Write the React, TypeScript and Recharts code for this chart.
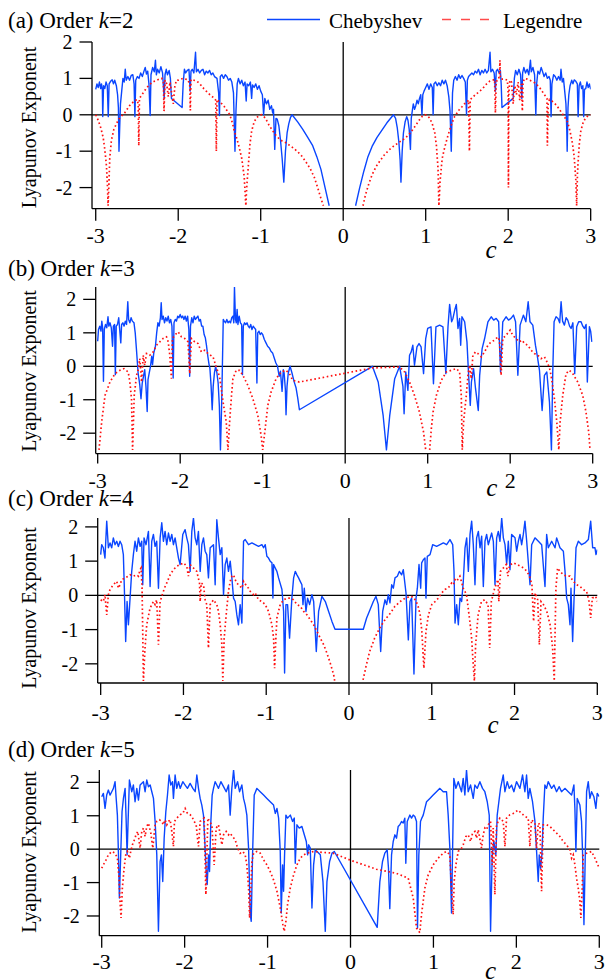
import React from "react";
import { LineChart, Line, XAxis, YAxis, ReferenceLine } from "recharts";

type Pt = [number, number | null];

const xTicks = [-3, -2, -1, 0, 1, 2, 3];
const yTicks = [-2, -1, 0, 1, 2];
const panelLabels = ["(a)", "(b)", "(c)", "(d)"];
const panelOrders = [2, 3, 4, 5];
const seriesNames = ["Chebyshev", "Legendre"];
const yTitle = "Lyapunov Exponent";
const xTitle = "c";

// ---------- (a) k = 2 ----------
const chebA: Pt[] = [
  [-3.0,0.7],[-2.985,0.85],[-2.97,0.75],[-2.955,0.9],[-2.94,0.72],[-2.93,0.85],[-2.92,0.7],[-2.915,-0.05],[-2.905,0.8],[-2.89,0.72],[-2.875,0.9],[-2.86,0.8],[-2.848,-0.05],[-2.838,0.85],[-2.82,0.92],[-2.8,0.96],[-2.785,0.85],[-2.77,0.95],[-2.75,0.8],[-2.735,0.55],[-2.725,0.2],[-2.718,-1.0],[-2.71,-0.4],[-2.7,0.3],[-2.685,0.65],[-2.67,1.0],[-2.655,0.9],[-2.642,1.25],[-2.63,0.95],[-2.61,1.05],[-2.59,0.95],[-2.57,1.08],[-2.55,1.1],[-2.535,0.85],[-2.525,-0.05],[-2.515,0.95],[-2.495,1.05],[-2.475,1.0],[-2.455,1.15],[-2.435,1.05],[-2.415,1.2],[-2.4,1.3],[-2.385,1.12],[-2.37,1.2],[-2.355,0.85],[-2.34,-0.02],[-2.33,1.1],[-2.31,1.3],[-2.29,1.18],[-2.276,1.5],[-2.265,1.1],[-2.25,1.25],[-2.23,1.15],[-2.21,1.32],[-2.19,1.15],[-2.17,0.45],[-2.16,1.1],[-2.145,1.25],[-2.13,1.1],[-2.11,1.22],[-2.095,1.0],[-2.082,0.45],[-1.953,0.2],[-1.94,0.85],[-1.925,1.25],[-1.91,1.15],[-1.89,1.22],[-1.87,1.25],[-1.855,0.65],[-1.845,1.2],[-1.83,1.25],[-1.81,1.15],[-1.79,1.72],[-1.78,1.18],[-1.76,1.25],[-1.74,1.15],[-1.72,1.22],[-1.7,1.25],[-1.68,1.1],[-1.66,1.2],[-1.64,1.15],[-1.62,1.22],[-1.6,1.1],[-1.58,1.15],[-1.56,1.05],[-1.53,1.0],[-1.51,0.6],[-1.5,-0.02],[-1.49,1.05],[-1.47,1.1],[-1.45,1.0],[-1.43,1.1],[-1.41,1.05],[-1.39,0.95],[-1.37,1.0],[-1.35,0.9],[-1.33,0.6],[-1.312,-1.0],[-1.3,0.1],[-1.285,0.85],[-1.27,1.0],[-1.25,0.85],[-1.23,0.95],[-1.21,0.8],[-1.19,0.9],[-1.176,0.38],[-1.165,0.85],[-1.145,0.8],[-1.125,0.9],[-1.11,0.45],[-1.1,0.82],[-1.08,0.75],[-1.06,0.85],[-1.04,0.7],[-1.02,0.8],[-1.0,0.65],[-0.98,0.55],[-0.965,0.0],[-0.95,0.45],[-0.93,0.3],[-0.91,0.4],[-0.89,0.15],[-0.87,0.25],[-0.855,0.05],[-0.845,0.15],[-0.83,-0.95],[-0.815,-0.1],[-0.8,-0.12],[-0.78,-0.3],[-0.76,-0.7],[-0.74,-1.2],[-0.72,-1.85],[-0.7,-1.0],[-0.68,-0.5],[-0.66,-0.25],[-0.64,-0.08],[-0.62,0.0],[-0.55,-0.2],[-0.49,-0.4],[-0.43,-0.62],[-0.37,-0.85],[-0.32,-1.15],[-0.27,-1.5],[-0.22,-2.0],[-0.17,-2.5],[0.0,null],
  [0.15,-2.5],[0.2,-2.0],[0.25,-1.55],[0.3,-1.15],[0.35,-0.87],[0.41,-0.62],[0.47,-0.42],[0.53,-0.22],[0.58,-0.08],[0.61,0.0],[0.635,-0.1],[0.655,-0.35],[0.675,-0.75],[0.69,-1.25],[0.7,-1.85],[0.715,-1.0],[0.73,-0.5],[0.75,-0.2],[0.77,-0.05],[0.785,-0.15],[0.8,-0.4],[0.815,-0.95],[0.825,-0.1],[0.84,0.15],[0.85,0.3],[0.865,0.15],[0.88,0.25],[0.895,0.4],[0.91,0.3],[0.925,0.45],[0.94,0.55],[0.955,0.0],[0.965,0.55],[0.98,0.65],[1.0,0.75],[1.02,0.85],[1.04,0.7],[1.06,0.85],[1.08,0.75],[1.09,0.0],[1.1,0.85],[1.12,0.9],[1.14,0.8],[1.16,0.88],[1.18,0.8],[1.2,0.95],[1.22,0.85],[1.24,0.95],[1.26,0.8],[1.28,0.5],[1.295,0.1],[1.31,-1.0],[1.325,0.6],[1.34,0.95],[1.36,1.05],[1.38,0.95],[1.4,1.1],[1.42,1.0],[1.44,1.08],[1.46,1.0],[1.48,0.9],[1.495,0.0],[1.505,0.95],[1.52,1.05],[1.54,1.1],[1.56,1.15],[1.58,1.1],[1.6,1.2],[1.62,1.15],[1.64,1.25],[1.66,1.1],[1.68,1.22],[1.7,1.15],[1.72,1.25],[1.74,1.15],[1.76,1.22],[1.78,1.72],[1.79,1.18],[1.81,1.25],[1.83,1.15],[1.845,0.65],[1.855,1.2],[1.87,1.25],[1.89,1.15],[1.905,1.22],[1.915,0.85],[1.925,0.2],[2.06,0.45],[2.075,1.0],[2.09,1.22],[2.11,1.1],[2.13,1.25],[2.15,1.1],[2.165,0.45],[2.175,1.15],[2.19,1.3],[2.21,1.15],[2.23,1.25],[2.25,1.1],[2.27,1.5],[2.28,1.18],[2.3,1.3],[2.32,1.1],[2.335,0.0],[2.345,0.85],[2.36,1.2],[2.38,1.12],[2.4,1.3],[2.415,1.2],[2.435,1.05],[2.455,1.15],[2.475,1.0],[2.495,1.05],[2.51,0.95],[2.52,-0.05],[2.53,0.85],[2.55,1.1],[2.57,1.05],[2.59,0.95],[2.61,1.05],[2.63,0.95],[2.64,1.25],[2.655,0.9],[2.67,1.0],[2.685,0.65],[2.7,0.3],[2.71,-0.4],[2.715,-1.0],[2.725,0.2],[2.735,0.55],[2.75,0.8],[2.77,0.95],[2.785,0.85],[2.8,0.96],[2.82,0.92],[2.838,0.85],[2.848,-0.05],[2.86,0.8],[2.875,0.9],[2.89,0.72],[2.905,0.8],[2.915,-0.05],[2.925,0.7],[2.94,0.72],[2.955,0.9],[2.97,0.75],[2.985,0.85],[3.0,0.7],
];
const legA: Pt[] = [
  [-3.0,0.0],[-2.97,-0.15],[-2.94,-0.35],[-2.91,-0.62],[-2.89,-0.95],[-2.87,-1.4],[-2.857,-2.0],[-2.85,-2.5],[-2.84,-1.9],[-2.83,-1.2],[-2.81,-0.7],[-2.78,-0.4],[-2.75,-0.25],[-2.72,-0.12],[-2.69,-0.04],[-2.65,0.05],[-2.62,0.15],[-2.59,0.25],[-2.56,0.32],[-2.53,0.38],[-2.5,0.42],[-2.485,0.3],[-2.478,-0.85],[-2.47,0.45],[-2.44,0.55],[-2.41,0.65],[-2.38,0.75],[-2.35,0.82],[-2.32,0.88],[-2.29,0.92],[-2.26,0.95],[-2.23,0.98],[-2.2,1.0],[-2.18,0.9],[-2.172,0.1],[-2.16,0.95],[-2.14,0.85],[-2.12,0.5],[-2.1,0.9],[-2.08,0.6],[-2.06,0.3],[-2.04,0.8],[-2.02,0.95],[-2.0,0.95],[-1.97,0.98],[-1.94,1.0],[-1.91,0.98],[-1.88,0.96],[-1.86,0.8],[-1.853,0.12],[-1.845,0.97],[-1.81,0.95],[-1.78,0.93],[-1.75,0.88],[-1.72,0.8],[-1.69,0.72],[-1.66,0.65],[-1.63,0.58],[-1.6,0.52],[-1.57,0.47],[-1.545,0.4],[-1.538,-1.0],[-1.53,0.42],[-1.5,0.35],[-1.47,0.3],[-1.44,0.22],[-1.41,0.12],[-1.38,0.02],[-1.36,-0.1],[-1.34,-0.25],[-1.32,-0.45],[-1.29,-0.65],[-1.26,-0.9],[-1.23,-1.2],[-1.2,-1.7],[-1.18,-2.5],[-1.17,-2.0],[-1.15,-1.4],[-1.13,-0.8],[-1.11,-0.45],[-1.08,-0.2],[-1.05,-0.08],[-1.02,-0.02],[-0.99,0.0],[-0.96,-0.05],[-0.93,-0.15],[-0.9,-0.28],[-0.86,-0.42],[-0.82,-0.55],[-0.78,-0.65],[-0.74,-0.72],[-0.7,-0.76],[-0.65,-0.84],[-0.6,-0.92],[-0.55,-1.02],[-0.5,-1.14],[-0.45,-1.3],[-0.4,-1.48],[-0.35,-1.72],[-0.31,-2.0],[-0.27,-2.3],[-0.24,-2.5],[0.0,null],
  [0.24,-2.5],[0.27,-2.2],[0.31,-1.9],[0.35,-1.65],[0.4,-1.42],[0.45,-1.25],[0.5,-1.1],[0.55,-0.98],[0.6,-0.88],[0.65,-0.8],[0.7,-0.72],[0.74,-0.66],[0.78,-0.58],[0.82,-0.48],[0.86,-0.35],[0.9,-0.22],[0.93,-0.12],[0.96,-0.04],[0.99,0.0],[1.02,-0.02],[1.05,-0.1],[1.08,-0.25],[1.11,-0.5],[1.13,-0.85],[1.15,-1.5],[1.16,-2.5],[1.175,-1.8],[1.2,-1.2],[1.23,-0.9],[1.26,-0.65],[1.29,-0.42],[1.32,-0.22],[1.35,-0.05],[1.38,0.05],[1.41,0.15],[1.44,0.22],[1.47,0.3],[1.5,0.35],[1.52,0.4],[1.53,-1.0],[1.54,0.42],[1.57,0.48],[1.6,0.55],[1.63,0.6],[1.66,0.66],[1.69,0.72],[1.72,0.8],[1.75,0.88],[1.78,0.93],[1.81,0.95],[1.835,0.97],[1.845,0.05],[1.855,0.92],[1.88,0.95],[1.895,1.1],[1.9,1.5],[1.905,1.0],[1.93,0.98],[1.96,0.98],[1.99,0.95],[2.0,0.6],[2.003,-2.0],[2.008,0.6],[2.02,0.95],[2.04,0.9],[2.06,0.3],[2.08,0.8],[2.1,0.55],[2.12,0.9],[2.14,0.4],[2.16,0.85],[2.172,0.1],[2.18,0.9],[2.2,1.0],[2.23,0.98],[2.26,0.95],[2.29,0.92],[2.32,0.88],[2.35,0.82],[2.38,0.75],[2.41,0.65],[2.44,0.55],[2.47,0.45],[2.475,-0.85],[2.485,0.3],[2.5,0.42],[2.53,0.38],[2.56,0.32],[2.59,0.25],[2.62,0.15],[2.65,0.05],[2.68,-0.05],[2.72,-0.2],[2.75,-0.45],[2.78,-0.8],[2.8,-1.15],[2.82,-1.8],[2.83,-2.5],[2.84,-1.6],[2.86,-0.85],[2.88,-0.45],[2.91,-0.2],[2.94,-0.08],[2.97,-0.02],[3.0,0.0],
];

// ---------- (b) k = 3 ----------
const chebB: Pt[] = [
  [-3.0,0.75],[-2.99,1.1],[-2.975,1.2],[-2.96,1.05],[-2.95,1.35],[-2.94,1.15],[-2.93,-0.45],[-2.92,1.1],[-2.905,1.25],[-2.89,1.15],[-2.875,1.48],[-2.865,1.2],[-2.85,1.3],[-2.835,1.15],[-2.82,0.6],[-2.81,1.2],[-2.795,1.25],[-2.786,-0.25],[-2.775,1.2],[-2.76,1.25],[-2.745,1.45],[-2.735,1.15],[-2.72,0.7],[-2.71,1.25],[-2.695,1.3],[-2.68,1.2],[-2.665,1.35],[-2.65,1.25],[-2.635,1.93],[-2.625,1.4],[-2.61,1.3],[-2.595,1.45],[-2.58,1.35],[-2.56,1.3],[-2.545,1.0],[-2.53,0.5],[-2.51,-0.2],[-2.49,-0.55],[-2.475,-0.97],[-2.46,-0.5],[-2.445,-0.3],[-2.43,-0.1],[-2.415,-0.6],[-2.4,-1.35],[-2.39,-0.4],[-2.375,-0.2],[-2.36,0.0],[-2.345,0.3],[-2.335,0.05],[-2.32,0.4],[-2.3,0.6],[-2.285,1.0],[-2.27,1.3],[-2.255,1.2],[-2.24,1.45],[-2.23,1.9],[-2.22,1.4],[-2.205,1.5],[-2.19,1.3],[-2.175,1.45],[-2.16,1.35],[-2.145,1.5],[-2.13,1.3],[-2.115,1.4],[-2.1,1.2],[-2.085,-0.35],[-2.075,1.3],[-2.06,1.4],[-2.045,1.35],[-2.03,1.5],[-2.015,1.45],[-2.0,1.55],[-1.985,1.45],[-1.97,1.5],[-1.955,1.4],[-1.94,1.5],[-1.925,1.35],[-1.91,1.5],[-1.895,1.1],[-1.885,-0.3],[-1.875,1.2],[-1.86,1.45],[-1.845,1.3],[-1.83,1.5],[-1.815,1.4],[-1.8,1.45],[-1.785,1.5],[-1.77,1.35],[-1.755,1.4],[-1.74,1.2],[-1.725,1.2],[-1.71,0.95],[-1.695,0.85],[-1.68,0.6],[-1.665,0.3],[-1.65,0.05],[-1.64,-0.05],[-1.625,-0.6],[-1.612,-1.3],[-1.6,-0.6],[-1.585,-0.2],[-1.57,0.0],[-1.555,-0.2],[-1.54,-0.5],[-1.525,-1.2],[-1.512,-2.5],[-1.5,-1.4],[-1.49,-0.2],[-1.478,1.4],[-1.465,1.35],[-1.45,1.3],[-1.435,1.4],[-1.42,1.3],[-1.405,1.35],[-1.39,1.3],[-1.375,1.45],[-1.36,1.5],[-1.35,1.3],[-1.342,2.37],[-1.33,1.4],[-1.32,1.3],[-1.31,1.7],[-1.3,1.25],[-1.285,1.5],[-1.27,1.3],[-1.255,1.25],[-1.245,-0.25],[-1.235,1.2],[-1.22,1.3],[-1.205,1.25],[-1.19,1.3],[-1.175,1.2],[-1.16,1.15],[-1.145,1.25],[-1.13,1.1],[-1.115,1.2],[-1.1,1.15],[-1.085,1.1],[-1.07,-0.5],[-1.06,1.0],[-1.045,1.05],[-1.03,0.95],[-1.015,1.0],[-1.0,0.95],[-0.98,0.8],[-0.96,0.7],[-0.94,0.6],[-0.92,0.55],[-0.9,0.45],[-0.88,0.4],[-0.86,0.25],[-0.84,0.1],[-0.82,0.0],[-0.8,-0.3],[-0.785,-0.15],[-0.765,-0.75],[-0.75,-0.1],[-0.74,-0.2],[-0.725,-0.7],[-0.717,-1.45],[-0.705,-0.6],[-0.69,-0.2],[-0.668,0.0],[-0.645,-0.2],[-0.62,-0.45],[-0.595,-0.65],[-0.575,-0.95],[-0.555,-1.3],
  [0.33,0.0],[0.4,-0.47],[0.46,-1.47],[0.5,-2.5],[0.54,-1.47],[0.6,-0.37],[0.66,0.0],[0.7,-0.6],[0.714,-1.42],[0.734,-0.17],[0.76,-0.72],[0.78,0.33],[0.8,0.43],[0.82,0.63],[0.84,0.03],[0.87,0.58],[0.895,0.68],[0.92,0.58],[0.95,-0.22],[0.976,0.83],[1.0,1.13],[1.04,1.18],[1.07,-0.52],[1.1,1.18],[1.145,1.23],[1.185,1.18],[1.22,-0.22],[1.246,1.18],[1.266,1.85],[1.29,1.33],[1.306,1.43],[1.33,1.7],[1.347,1.85],[1.367,1.13],[1.387,1.43],[1.4,0.63],[1.415,1.48],[1.448,1.33],[1.476,0.73],[1.49,0.03],[1.516,-1.17],[1.53,-0.47],[1.556,-0.07],[1.58,-0.67],[1.613,-1.32],[1.63,-0.27],[1.66,0.53],[1.69,0.83],[1.73,1.33],[1.77,1.48],[1.8,1.38],[1.83,1.43],[1.86,1.33],[1.883,-0.17],[1.91,1.33],[1.95,1.48],[1.98,1.38],[2.01,1.43],[2.04,1.53],[2.065,1.33],[2.093,-0.27],[2.12,1.23],[2.16,1.53],[2.19,1.33],[2.218,1.93],[2.24,1.33],[2.274,1.23],[2.306,0.63],[2.327,0.33],[2.355,-0.12],[2.387,-1.32],[2.415,-0.27],[2.444,-0.17],[2.476,-1.07],[2.5,-2.5],[2.516,-0.17],[2.532,1.33],[2.556,1.48],[2.58,1.43],[2.6,1.3],[2.617,1.93],[2.635,1.35],[2.657,1.23],[2.678,1.45],[2.698,1.38],[2.72,1.2],[2.738,1.13],[2.76,1.3],[2.782,-0.22],[2.806,1.18],[2.83,1.33],[2.859,1.33],[2.88,1.2],[2.9,1.13],[2.92,1.25],[2.935,-0.47],[2.96,1.18],[2.975,1.05],[2.99,0.73],
];
const legB: Pt[] = [
  [-2.984,-2.5],[-2.952,-1.67],[-2.911,-0.87],[-2.851,-0.47],[-2.79,-0.22],[-2.73,-0.12],[-2.682,-0.07],[-2.63,-0.17],[-2.61,-0.47],[-2.59,-0.97],[-2.577,-2.5],[-2.557,-0.87],[-2.529,-0.27],[-2.51,-0.12],[-2.49,0.23],[-2.468,-0.47],[-2.448,0.33],[-2.43,0.03],[-2.408,0.38],[-2.368,0.33],[-2.327,0.43],[-2.287,0.63],[-2.247,0.73],[-2.207,0.83],[-2.166,0.88],[-2.145,0.73],[-2.126,0.33],[-2.106,-0.37],[-2.094,0.83],[-2.066,0.93],[-2.025,1.03],[-1.985,0.88],[-1.945,0.83],[-1.905,0.73],[-1.884,-0.22],[-1.864,0.83],[-1.824,0.73],[-1.784,0.68],[-1.743,0.43],[-1.703,0.48],[-1.663,0.38],[-1.602,0.28],[-1.57,0.03],[-1.542,-0.17],[-1.522,-0.32],[-1.502,-0.67],[-1.474,-1.17],[-1.441,-1.67],[-1.421,-2.5],[-1.401,-1.67],[-1.381,-0.97],[-1.361,-0.37],[-1.321,-0.12],[-1.28,-0.12],[-1.24,-0.27],[-1.18,-0.57],[-1.119,-0.97],[-1.059,-1.47],[-1.019,-2.07],[-1.0,-2.5],[-0.97,-1.87],[-0.938,-1.17],[-0.898,-0.77],[-0.837,-0.37],[-0.777,-0.17],[-0.717,-0.12],[-0.676,-0.22],[-0.636,-0.42],[-0.555,-0.47],[0.33,-0.05],
  [0.66,-0.02],[0.72,-0.17],[0.78,-0.47],[0.84,-0.87],[0.9,-1.37],[0.95,-1.97],[0.976,-2.5],[1.0,null],[1.024,-2.5],[1.044,-1.87],[1.065,-1.37],[1.105,-0.87],[1.165,-0.42],[1.226,-0.17],[1.286,-0.12],[1.347,-0.07],[1.387,-0.17],[1.407,-0.87],[1.419,-2.5],[1.435,-1.67],[1.468,-0.87],[1.488,-0.27],[1.508,0.03],[1.528,-0.37],[1.548,0.33],[1.58,0.43],[1.609,0.38],[1.65,0.28],[1.69,0.43],[1.73,0.63],[1.77,0.73],[1.81,0.78],[1.85,0.88],[1.87,0.78],[1.89,-0.27],[1.91,0.83],[1.95,0.93],[2.0,1.08],[2.03,0.93],[2.07,0.83],[2.11,0.73],[2.145,0.78],[2.173,0.68],[2.214,0.63],[2.254,0.48],[2.294,0.38],[2.335,0.33],[2.375,0.23],[2.415,0.28],[2.456,0.08],[2.484,-0.12],[2.508,-0.47],[2.536,-0.97],[2.565,-1.67],[2.589,-2.5],[2.605,-1.67],[2.637,-0.87],[2.677,-0.22],[2.718,-0.12],[2.758,-0.22],[2.819,-0.47],[2.879,-0.87],[2.919,-1.37],[2.952,-1.97],[2.968,-2.5],
];

// ---------- (c) k = 4 ----------
const chebC: Pt[] = [
  [-3.0,1.19],[-2.988,1.48],[-2.968,1.39],[-2.948,1.09],[-2.927,2.17],[-2.907,1.39],[-2.887,1.53],[-2.867,1.39],[-2.847,1.68],[-2.827,1.48],[-2.806,1.58],[-2.786,1.43],[-2.766,1.58],[-2.746,1.48],[-2.726,1.19],[-2.714,0.21],[-2.698,-1.35],[-2.681,-0.18],[-2.665,-0.86],[-2.645,-0.08],[-2.625,0.7],[-2.605,1.19],[-2.585,1.58],[-2.565,1.29],[-2.544,1.68],[-2.524,1.43],[-2.504,1.58],[-2.492,0.31],[-2.476,1.68],[-2.452,1.48],[-2.423,1.87],[-2.403,0.26],[-2.383,1.58],[-2.363,1.78],[-2.343,1.43],[-2.323,1.58],[-2.302,0.21],[-2.282,1.68],[-2.262,2.12],[-2.242,1.58],[-2.222,1.87],[-2.202,1.48],[-2.181,1.82],[-2.161,1.58],[-2.141,1.78],[-2.121,1.48],[-2.101,1.68],[-2.081,1.39],[-2.06,1.09],[-2.04,0.9],[-2.008,1.78],[-1.98,1.92],[-1.96,1.68],[-1.94,1.48],[-1.919,0.7],[-1.899,1.87],[-1.879,2.26],[-1.859,1.68],[-1.839,1.48],[-1.819,1.87],[-1.798,0.7],[-1.778,1.48],[-1.758,1.68],[-1.738,1.29],[-1.718,1.19],[-1.698,0.51],[-1.677,1.39],[-1.637,1.48],[-1.617,0.31],[-1.597,2.21],[-1.577,1.68],[-1.556,1.19],[-1.536,1.39],[-1.516,0.02],[-1.496,0.9],[-1.476,1.09],[-1.456,0.7],[-1.435,1.0],[-1.415,0.51],[-1.395,-0.08],[-1.375,-0.18],[-1.355,-0.57],[-1.335,-0.86],[-1.315,-0.27],[-1.294,-0.81],[-1.274,1.58],[-1.254,1.63],[-1.214,1.48],[-1.173,1.53],[-1.133,1.48],[-1.093,1.43],[-1.052,1.48],[-1.032,1.39],[-1.012,1.48],[-0.992,1.14],[-0.972,1.09],[-0.952,1.0],[-0.931,0.95],[-0.919,-0.08],[-0.911,0.9],[-0.891,0.8],[-0.871,0.7],[-0.851,0.51],[-0.81,0.17],[-0.79,-0.47],[-0.778,-2.27],[-0.762,-0.27],[-0.742,-0.27],[-0.718,-1.25],[-0.69,-0.08],[-0.669,0.51],[-0.649,0.7],[-0.629,0.6],[-0.609,0.51],[-0.589,0.41],[-0.569,0.31],[-0.556,-0.27],[-0.54,0.21],[-0.52,-0.47],[-0.5,-0.08],[-0.476,-0.27],[-0.448,0.02],[-0.427,-0.18],[-0.395,-1.64],[-0.367,-0.47],[-0.327,-0.03],[-0.286,-0.18],[-0.246,-0.47],[-0.206,-0.76],[-0.169,-0.99],
  [0.173,-0.99],[0.213,-0.66],[0.254,-0.42],[0.294,-0.18],[0.326,-0.03],[0.354,-0.27],[0.383,-1.64],[0.407,-0.47],[0.435,-0.13],[0.455,-0.27],[0.475,0.02],[0.495,-0.22],[0.516,0.31],[0.536,0.21],[0.556,0.51],[0.584,0.56],[0.608,0.7],[0.636,0.6],[0.656,0.75],[0.689,0.07],[0.717,-1.3],[0.737,-0.18],[0.757,-0.08],[0.785,-2.3],[0.81,-0.08],[0.826,0.21],[0.846,0.9],[0.866,0.21],[0.878,0.95],[0.898,1.04],[0.918,1.09],[0.93,-0.08],[0.946,1.14],[0.979,1.19],[1.011,1.48],[1.059,1.43],[1.1,1.48],[1.14,1.53],[1.18,1.48],[1.22,1.63],[1.253,1.48],[1.269,0.7],[1.281,-0.81],[1.301,-0.27],[1.321,-0.86],[1.341,-0.08],[1.361,-0.18],[1.381,0.41],[1.402,1.39],[1.422,1.68],[1.442,0.7],[1.462,1.78],[1.482,2.17],[1.502,1.48],[1.522,0.31],[1.542,1.68],[1.563,1.87],[1.583,1.39],[1.603,1.73],[1.623,0.26],[1.643,1.58],[1.663,1.78],[1.683,1.48],[1.724,1.82],[1.744,1.58],[1.764,0.31],[1.784,1.68],[1.804,1.87],[1.824,1.58],[1.845,2.26],[1.865,1.68],[1.885,1.48],[1.905,0.9],[1.925,1.58],[1.945,0.75],[1.965,1.78],[2.006,1.68],[2.026,1.29],[2.046,1.58],[2.066,1.78],[2.086,1.48],[2.106,1.78],[2.126,2.17],[2.147,1.58],[2.187,0.31],[2.207,1.48],[2.247,1.68],[2.288,1.58],[2.328,1.48],[2.368,0.26],[2.388,1.78],[2.408,1.39],[2.449,1.58],[2.489,1.39],[2.509,1.68],[2.549,1.39],[2.59,1.29],[2.61,0.7],[2.63,-0.08],[2.65,-0.27],[2.67,-0.86],[2.682,0.21],[2.702,-1.35],[2.718,-0.18],[2.743,1.39],[2.771,1.58],[2.811,1.48],[2.851,1.53],[2.892,1.63],[2.92,2.17],[2.944,1.39],[2.972,1.39],[2.984,1.19],[3.0,1.34],
];
const legC: Pt[] = [
  [-3.0,-0.13],[-2.968,-0.18],[-2.948,0.02],[-2.927,-0.57],[-2.907,0.02],[-2.887,0.17],[-2.847,0.31],[-2.806,0.41],[-2.786,0.21],[-2.766,0.31],[-2.746,0.46],[-2.706,0.51],[-2.665,0.56],[-2.645,0.6],[-2.605,0.56],[-2.565,0.6],[-2.544,0.56],[-2.524,0.75],[-2.512,0.8],[-2.5,0.21],[-2.492,-1.05],[-2.484,-2.5],[-2.464,-1.54],[-2.444,-0.86],[-2.403,-0.37],[-2.363,-0.18],[-2.343,-0.27],[-2.323,-0.13],[-2.302,-1.44],[-2.282,-0.18],[-2.242,0.12],[-2.214,0.31],[-2.202,0.36],[-2.161,0.6],[-2.121,0.75],[-2.081,0.85],[-2.04,0.9],[-2.0,0.95],[-1.96,0.85],[-1.94,0.56],[-1.919,0.9],[-1.879,0.8],[-1.839,0.7],[-1.806,0.36],[-1.798,-0.18],[-1.786,0.36],[-1.758,0.31],[-1.738,-0.13],[-1.718,-0.27],[-1.698,-1.54],[-1.677,-0.27],[-1.637,-0.13],[-1.597,-0.27],[-1.577,-0.47],[-1.556,-0.86],[-1.536,-1.44],[-1.524,-2.5],[-1.508,-1.25],[-1.484,-0.57],[-1.456,0.12],[-1.435,0.41],[-1.415,0.56],[-1.395,0.6],[-1.375,0.46],[-1.355,0.36],[-1.315,0.26],[-1.294,0.21],[-1.274,0.41],[-1.234,0.26],[-1.214,0.21],[-1.194,0.12],[-1.153,0.02],[-1.133,0.07],[-1.093,-0.13],[-1.052,-0.18],[-1.012,-0.27],[-0.972,-0.47],[-0.931,-0.86],[-0.911,-1.25],[-0.899,-2.13],[-0.887,-1.44],[-0.871,-0.66],[-0.831,-0.27],[-0.79,-0.13],[-0.75,-0.08],[-0.71,-0.08],[-0.669,-0.13],[-0.629,-0.27],[-0.589,-0.32],[-0.548,-0.47],[-0.508,-0.57],[-0.468,-0.71],[-0.427,-0.86],[-0.387,-1.05],[-0.347,-1.25],[-0.306,-1.44],[-0.266,-1.69],[-0.226,-1.98],[-0.185,-2.32],[-0.173,-2.5],[0.0,null],
  [0.17,-2.47],[0.21,-2.03],[0.25,-1.64],[0.31,-1.25],[0.37,-0.96],[0.435,-0.71],[0.5,-0.52],[0.555,-0.32],[0.62,-0.18],[0.68,-0.08],[0.74,-0.03],[0.78,-0.05],[0.83,-0.27],[0.86,-0.57],[0.88,-1.05],[0.905,-2.13],[0.93,-1.05],[0.96,-0.57],[1.0,-0.27],[1.04,-0.18],[1.08,-0.08],[1.12,0.07],[1.16,0.17],[1.2,0.22],[1.24,0.36],[1.26,0.31],[1.28,0.46],[1.3,0.41],[1.34,0.56],[1.38,0.21],[1.42,0.02],[1.44,-0.37],[1.46,-0.76],[1.48,-1.2],[1.5,-1.98],[1.515,-2.5],[1.53,-1.44],[1.56,-0.57],[1.6,-0.18],[1.64,-0.13],[1.68,-0.27],[1.7,-1.54],[1.72,-0.18],[1.76,0.21],[1.8,0.46],[1.81,-0.18],[1.83,0.7],[1.865,0.8],[1.9,0.9],[1.92,0.56],[1.94,0.88],[1.985,0.95],[2.03,0.9],[2.07,0.85],[2.11,0.8],[2.15,0.7],[2.18,0.56],[2.21,0.31],[2.23,-0.76],[2.25,0.07],[2.28,-0.13],[2.3,-1.44],[2.32,-0.18],[2.35,-0.27],[2.39,-0.47],[2.43,-0.86],[2.46,-1.54],[2.48,-2.5],[2.49,-1.05],[2.5,0.2],[2.52,0.8],[2.55,0.7],[2.59,0.6],[2.63,0.56],[2.67,0.56],[2.71,0.41],[2.75,0.31],[2.79,0.26],[2.83,0.17],[2.87,0.12],[2.9,-0.18],[2.92,-0.66],[2.94,-0.08],[2.98,-0.03],[3.0,-0.18],
];

// ---------- (d) k = 5 ----------
const chebD: Pt[] = [
  [-3.0,1.57],[-2.98,1.67],[-2.96,1.22],[-2.94,1.62],[-2.92,1.77],[-2.9,1.62],[-2.879,1.72],[-2.859,1.82],[-2.839,2.02],[-2.827,1.57],[-2.811,1.02],[-2.799,-0.07],[-2.787,-1.46],[-2.771,-0.17],[-2.755,1.12],[-2.738,1.52],[-2.718,1.82],[-2.706,0.93],[-2.694,-0.17],[-2.682,0.83],[-2.666,2.07],[-2.638,1.72],[-2.618,1.92],[-2.598,1.42],[-2.577,1.82],[-2.557,1.47],[-2.537,1.92],[-2.497,2.02],[-2.477,1.72],[-2.457,2.07],[-2.437,1.87],[-2.416,1.92],[-2.396,1.72],[-2.376,1.52],[-2.356,0.83],[-2.336,-0.17],[-2.316,-2.46],[-2.296,-0.37],[-2.28,-0.17],[-2.264,-0.97],[-2.247,0.33],[-2.227,1.12],[-2.207,1.62],[-2.187,2.22],[-2.167,1.92],[-2.147,2.02],[-2.135,1.52],[-2.115,2.22],[-2.095,1.82],[-2.074,2.02],[-2.054,1.82],[-2.022,2.02],[-1.994,1.92],[-1.966,1.82],[-1.934,1.97],[-1.901,1.82],[-1.873,1.72],[-1.853,2.22],[-1.833,1.82],[-1.813,1.52],[-1.793,1.32],[-1.773,1.02],[-1.753,0.03],[-1.74,-0.67],[-1.728,-1.06],[-1.712,-0.17],[-1.7,-0.67],[-1.684,0.83],[-1.668,1.62],[-1.652,1.82],[-1.632,2.02],[-1.612,1.92],[-1.592,1.82],[-1.563,2.02],[-1.531,1.87],[-1.499,1.72],[-1.471,1.92],[-1.451,1.02],[-1.431,1.82],[-1.41,2.37],[-1.39,1.82],[-1.362,2.02],[-1.338,1.72],[-1.31,1.92],[-1.29,1.52],[-1.27,1.32],[-1.25,1.02],[-1.229,0.03],[-1.209,-1.96],[-1.197,-2.16],[-1.181,-0.17],[-1.161,1.62],[-1.129,1.82],[-1.089,1.72],[-1.048,1.62],[-1.008,1.52],[-0.968,1.42],[-0.928,1.32],[-0.907,1.07],[-0.887,1.22],[-0.867,0.93],[-0.847,-0.07],[-0.835,-1.91],[-0.819,-0.47],[-0.807,-1.26],[-0.795,-0.17],[-0.779,1.02],[-0.759,0.93],[-0.726,1.02],[-0.698,0.83],[-0.678,0.93],[-0.666,-0.42],[-0.646,0.73],[-0.618,0.63],[-0.586,0.68],[-0.557,0.43],[-0.533,0.23],[-0.517,-0.17],[-0.505,0.13],[-0.485,0.03],[-0.465,-1.76],[-0.445,-0.47],[-0.425,-0.02],[-0.404,-0.07],[-0.364,-0.17],[-0.332,-0.97],[-0.304,-2.46],[-0.284,-0.97],[-0.252,-0.37],[-0.223,-0.12],[-0.195,-0.07],
  [0.322,-2.34],[0.354,-0.97],[0.386,-0.37],[0.414,-0.12],[0.442,-0.02],[0.458,-0.57],[0.474,-1.78],[0.495,-0.17],[0.515,0.23],[0.535,0.43],[0.555,0.33],[0.575,0.68],[0.595,0.73],[0.615,0.83],[0.635,0.78],[0.655,0.93],[0.667,-0.42],[0.684,0.83],[0.716,1.02],[0.736,0.93],[0.756,1.02],[0.776,0.98],[0.796,0.83],[0.808,-2.36],[0.824,-0.17],[0.844,0.83],[0.86,0.93],[0.877,1.02],[0.897,1.22],[0.917,1.42],[0.957,1.52],[0.997,1.62],[1.037,1.72],[1.078,1.82],[1.118,1.72],[1.158,1.72],[1.178,1.02],[1.198,0.03],[1.218,-1.91],[1.23,-0.17],[1.246,2.12],[1.271,1.82],[1.299,2.02],[1.339,1.72],[1.359,2.12],[1.379,1.62],[1.399,2.37],[1.419,1.72],[1.448,1.92],[1.48,1.52],[1.5,1.92],[1.528,1.82],[1.56,2.02],[1.592,1.82],[1.62,1.72],[1.649,1.42],[1.673,1.02],[1.689,-2.46],[1.709,-0.17],[1.729,0.23],[1.753,-0.17],[1.769,1.02],[1.789,1.42],[1.809,1.82],[1.842,2.22],[1.862,1.72],[1.89,2.02],[1.914,1.82],[1.942,1.92],[1.97,1.72],[2.002,2.02],[2.043,1.82],[2.075,2.22],[2.103,1.72],[2.123,2.22],[2.143,1.52],[2.163,1.82],[2.195,1.42],[2.224,0.83],[2.244,-0.07],[2.264,-0.97],[2.276,-0.17],[2.292,-0.57],[2.308,-0.17],[2.324,0.93],[2.344,1.92],[2.364,1.82],[2.384,2.02],[2.425,1.82],[2.453,1.92],[2.485,1.72],[2.517,1.87],[2.545,1.72],[2.585,1.82],[2.626,1.72],[2.666,1.62],[2.694,1.92],[2.706,1.22],[2.718,-0.07],[2.734,1.52],[2.766,1.32],[2.786,0.83],[2.798,-0.07],[2.815,-2.26],[2.831,-0.17],[2.847,1.72],[2.867,2.02],[2.887,1.52],[2.907,1.72],[2.935,1.57],[2.959,1.22],[2.975,1.67],[3.0,1.57],
];
const legD: Pt[] = [
  [-3.0,-0.57],[-2.98,-0.47],[-2.948,-0.32],[-2.92,-0.17],[-2.879,-0.07],[-2.839,-0.12],[-2.811,-0.27],[-2.791,-0.87],[-2.779,-1.56],[-2.767,-2.06],[-2.751,-1.16],[-2.73,-0.57],[-2.71,-0.17],[-2.69,-0.07],[-2.666,-0.27],[-2.65,-0.07],[-2.63,0.13],[-2.606,0.28],[-2.586,0.43],[-2.565,0.53],[-2.537,0.03],[-2.517,0.53],[-2.497,0.63],[-2.477,0.38],[-2.457,0.68],[-2.437,0.78],[-2.408,0.48],[-2.384,0.03],[-2.356,0.73],[-2.336,0.83],[-2.304,0.88],[-2.276,0.83],[-2.256,0.73],[-2.235,0.88],[-2.215,0.73],[-2.195,0.83],[-2.175,0.88],[-2.155,0.53],[-2.135,0.08],[-2.123,0.83],[-2.095,0.93],[-2.054,1.03],[-2.022,1.07],[-1.994,1.22],[-1.966,1.07],[-1.934,1.03],[-1.913,0.98],[-1.885,0.83],[-1.861,0.73],[-1.845,0.33],[-1.833,0.08],[-1.813,0.83],[-1.793,0.88],[-1.765,0.93],[-1.744,-1.36],[-1.732,-0.17],[-1.72,0.93],[-1.7,0.83],[-1.672,0.73],[-1.644,-0.47],[-1.62,0.63],[-1.592,0.73],[-1.571,0.43],[-1.551,0.13],[-1.531,0.43],[-1.499,0.53],[-1.471,0.43],[-1.451,0.48],[-1.423,0.38],[-1.39,0.28],[-1.362,0.03],[-1.33,-0.12],[-1.298,-0.07],[-1.27,-0.17],[-1.25,-0.47],[-1.229,-1.16],[-1.217,-2.06],[-1.201,-1.16],[-1.189,-0.37],[-1.169,-0.12],[-1.129,-0.07],[-1.089,-0.12],[-1.048,-0.32],[-1.008,-0.47],[-0.968,-0.67],[-0.928,-0.92],[-0.887,-1.26],[-0.847,-1.76],[-0.815,-2.26],[-0.799,-2.46],[-0.779,-2.16],[-0.759,-1.66],[-0.726,-1.16],[-0.686,-0.77],[-0.646,-0.47],[-0.606,-0.27],[-0.565,-0.17],[-0.525,-0.12],[-0.445,-0.07],[-0.364,-0.09],[-0.21,-0.12],
  [0.0,-0.33],[0.31,-0.6],[0.55,-0.72],[0.696,-0.87],[0.756,-1.46],[0.796,-2.36],[0.836,-2.5],[0.856,-1.96],[0.897,-1.16],[0.937,-0.77],[0.997,-0.47],[1.057,-0.27],[1.118,-0.12],[1.158,-0.07],[1.198,-0.17],[1.218,-1.16],[1.238,-1.96],[1.25,-0.97],[1.271,-0.47],[1.299,-0.07],[1.339,0.03],[1.359,0.13],[1.391,0.38],[1.419,0.43],[1.448,0.23],[1.472,0.48],[1.5,0.53],[1.52,0.33],[1.54,0.58],[1.58,0.03],[1.6,0.43],[1.62,0.63],[1.641,0.58],[1.661,0.73],[1.689,0.83],[1.709,-0.47],[1.721,0.63],[1.741,-1.36],[1.761,0.73],[1.781,0.83],[1.801,0.93],[1.842,0.83],[1.862,0.08],[1.882,0.93],[1.922,1.03],[1.962,1.07],[2.022,1.17],[2.063,1.07],[2.103,0.98],[2.143,0.93],[2.163,0.08],[2.183,0.88],[2.224,0.78],[2.244,0.03],[2.264,0.78],[2.284,0.73],[2.304,-1.26],[2.324,0.73],[2.364,0.73],[2.404,0.68],[2.445,0.58],[2.485,0.48],[2.525,0.38],[2.565,0.23],[2.606,0.13],[2.646,-0.02],[2.666,-0.27],[2.686,-0.17],[2.706,-0.47],[2.726,-0.87],[2.746,-1.16],[2.766,-1.56],[2.778,-2.06],[2.794,-1.16],[2.807,-0.17],[2.847,-0.12],[2.907,-0.07],[2.947,-0.27],[3.0,-0.57],
];

const chebSeries = [chebA, chebB, chebC, chebD];
const legSeries = [legA, legB, legC, legD];

// layout (pixels) for each panel
const layout = [
  { T: 42, B: 208.7, L: 92, R: 590.7, xMin: -3.045, yMin: -2.58, yMax: 2.0, xts: 12, xtm: 7, title: 28.3, yMid: 127.5, cX: 491, cY: 258 },
  { T: 286.7, B: 453.3, L: 95.7, R: 592.7, xMin: -3.024, yMin: -2.61, yMax: 2.37, xts: 10, xtm: 8.5, title: 275.7, yMid: 371, cX: 491.7, cY: 495.5 },
  { T: 518.3, B: 683.3, L: 97.7, R: 597.3, xMin: -3.036, yMin: -2.56, yMax: 2.26, xts: 12, xtm: 9, title: 505.5, yMid: 608, cX: 493, cY: 733 },
  { T: 770, B: 935.7, L: 99.3, R: 599.3, xMin: -3.029, yMin: -2.59, yMax: 2.37, xts: 12, xtm: 5.5, title: 757, yMid: 852, cX: 490.5, cY: 979 },
];

const FONT = "'Liberation Serif', 'Times New Roman', serif";
const BLUE = "#0a46ff";
const RED = "#ff1010";

const rows = (pts: Pt[]) => pts.map(([x, y]) => ({ x, y }));

function Panel({ i }: { i: number }) {
  const c = layout[i];
  const mt = 10;
  const xh = 50;
  const h = mt + (c.B - c.T) + xh;
  return (
    <div style={{ position: "absolute", left: 0, top: c.T - mt, width: 605, height: h }}>
      <LineChart width={605} height={h} margin={{ top: mt, right: 605 - c.R, left: 0, bottom: 0 }}>
        <XAxis
          type="number"
          dataKey="x"
          domain={[c.xMin, 3]}
          ticks={xTicks}
          interval={0}
          allowDataOverflow
          height={xh}
          tickSize={c.xts}
          tickMargin={c.xtm}
          axisLine={{ stroke: "#000", strokeWidth: 1.3 }}
          tickLine={{ stroke: "#000", strokeWidth: 1.3 }}
          tick={{ fill: "#000", fontSize: 22, fontFamily: FONT }}
        />
        <YAxis
          type="number"
          domain={[c.yMin, c.yMax]}
          ticks={yTicks}
          interval={0}
          allowDataOverflow
          width={c.L}
          tickSize={12.5}
          tickMargin={7}
          axisLine={{ stroke: "#000", strokeWidth: 1.3 }}
          tickLine={{ stroke: "#000", strokeWidth: 1.3 }}
          tick={{ fill: "#000", fontSize: 20, fontFamily: FONT }}
        />
        <ReferenceLine y={0} stroke="#000" strokeWidth={1.3} />
        <ReferenceLine x={0} stroke="#000" strokeWidth={1.3} />
        <Line
          data={rows(chebSeries[i])}
          dataKey="y"
          name={seriesNames[0]}
          type="linear"
          stroke={BLUE}
          strokeWidth={1.4}
          strokeLinejoin="round"
          connectNulls={false}
          dot={false}
          activeDot={false}
          isAnimationActive={false}
        />
        <Line
          data={rows(legSeries[i])}
          dataKey="y"
          name={seriesNames[1]}
          type="linear"
          stroke={RED}
          strokeWidth={1.7}
          strokeDasharray="1.6 2.6"
          connectNulls={false}
          dot={false}
          activeDot={false}
          isAnimationActive={false}
        />
      </LineChart>
    </div>
  );
}

export default function App() {
  return (
    <div style={{ position: "absolute", left: 0, top: 0, width: 605, height: 979, background: "#fff", overflow: "hidden" }}>
      {layout.map((_, i) => (
        <Panel key={i} i={i} />
      ))}
      <svg width={605} height={979} style={{ position: "absolute", left: 0, top: 0, pointerEvents: "none" }} fontFamily={FONT} fill="#000">
        {layout.map((c, i) => (
          <g key={i}>
            <text x={8} y={c.title} fontSize={23}>
              {panelLabels[i]} Order <tspan fontStyle="italic">k</tspan>={panelOrders[i]}
            </text>
            <text transform={`translate(36, ${c.yMid}) rotate(-90)`} textAnchor="middle" fontSize={20}>
              {yTitle}
            </text>
            <text x={c.cX} y={c.cY} textAnchor="middle" fontSize={25} fontStyle="italic">
              {xTitle}
            </text>
          </g>
        ))}
        <line x1={267} x2={320} y1={19.5} y2={19.5} stroke={BLUE} strokeWidth={1.5} />
        <text x={329} y={28.3} fontSize={21}>{seriesNames[0]}</text>
        <line x1={442} x2={492} y1={19.5} y2={19.5} stroke={RED} strokeWidth={1.5} strokeDasharray="9 10" opacity={0.75} />
        <text x={503} y={28.3} fontSize={21}>{seriesNames[1]}</text>
      </svg>
    </div>
  );
}
